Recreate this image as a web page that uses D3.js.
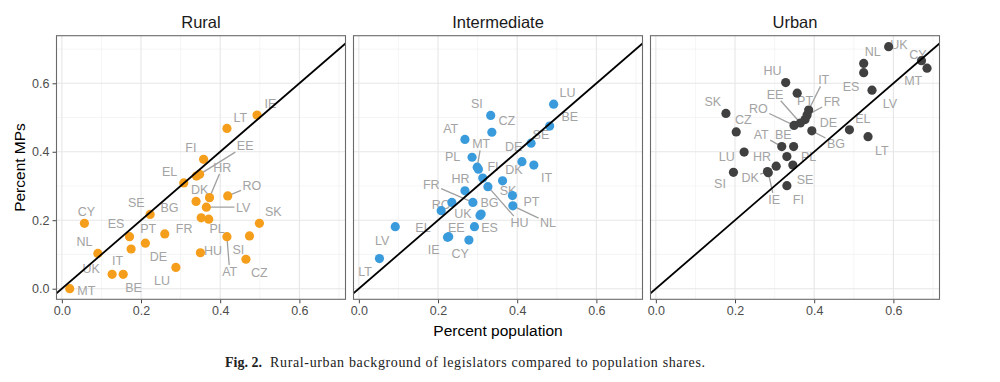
<!DOCTYPE html>
<html><head><meta charset="utf-8">
<script src="https://cdn.jsdelivr.net/npm/d3@7"></script>
<style>body{margin:0;background:#fff} svg{display:block}</style>
</head><body>
<svg id="chart" width="1000" height="382"></svg>
<script>
// ---------------- DATA ----------------
const countries = ["AT","BE","BG","CY","CZ","DE","DK","EE","EL","ES","FI","FR","HR","HU","IE","IT","LT","LU","LV","MT","NL","PL","PT","RO","SE","SI","SK","UK"];
const panelNames = ["Rural","Intermediate","Urban"];
const tickValues = [0, 0.2, 0.4, 0.6];

// Rural: population share, MP share, repelled label anchor (data units)
const ruralPop    = [0.417,0.175,0.339,0.057,0.465,0.352,0.340,0.348,0.308,0.171,0.358,0.260,0.373,0.350,0.493,0.155,0.417,0.288,0.365,0.020,0.091,0.371,0.211,0.419,0.223,0.474,0.499,0.127];
const ruralMPs    = [0.152,0.116,0.255,0.191,0.086,0.207,0.329,0.334,0.309,0.152,0.378,0.160,0.266,0.105,0.507,0.042,0.468,0.062,0.238,0.000,0.103,0.203,0.133,0.271,0.217,0.154,0.191,0.042];
const ruralLabelX = [0.424,0.181,0.272,0.062,0.499,0.244,0.348,0.463,0.272,0.137,0.326,0.309,0.405,0.382,0.527,0.141,0.451,0.253,0.458,0.062,0.057,0.392,0.218,0.480,0.188,0.446,0.534,0.074];
const ruralLabelY = [0.050,0.003,0.238,0.225,0.047,0.093,0.290,0.417,0.342,0.189,0.413,0.176,0.354,0.113,0.542,0.082,0.501,0.023,0.238,-0.006,0.138,0.176,0.176,0.300,0.251,0.115,0.226,0.060];
const ruralSegments = ["AT","EE","HR","LV","RO"];

// Intermediate
const interPop    = [0.268,0.482,0.309,0.278,0.336,0.302,0.412,0.227,0.208,0.292,0.313,0.288,0.268,0.326,0.224,0.442,0.052,0.492,0.092,0.299,0.389,0.286,0.388,0.235,0.435,0.333,0.363,0.306];
const interMPs    = [0.436,0.475,0.218,0.142,0.457,0.349,0.371,0.152,0.228,0.181,0.323,0.252,0.286,0.298,0.150,0.361,0.088,0.539,0.181,0.355,0.242,0.384,0.272,0.252,0.425,0.506,0.315,0.214];
const interLabelX = [0.232,0.533,0.330,0.256,0.374,0.391,0.392,0.246,0.162,0.330,0.339,0.183,0.257,0.406,0.189,0.474,0.016,0.527,0.059,0.309,0.478,0.237,0.436,0.208,0.460,0.298,0.377,0.263];
const interLabelY = [0.469,0.502,0.252,0.103,0.491,0.415,0.347,0.179,0.178,0.179,0.358,0.305,0.323,0.193,0.115,0.324,0.050,0.573,0.142,0.423,0.193,0.386,0.254,0.245,0.449,0.540,0.288,0.220];
const interSegments = ["FR","HU","MT","NL"];

// Urban
const urbanPop    = [0.318,0.348,0.394,0.671,0.203,0.377,0.282,0.365,0.489,0.525,0.331,0.382,0.304,0.328,0.284,0.386,0.536,0.223,0.546,0.685,0.525,0.331,0.357,0.349,0.346,0.196,0.177,0.588];
const urbanMPs    = [0.415,0.415,0.461,0.666,0.458,0.494,0.342,0.484,0.464,0.631,0.301,0.507,0.358,0.602,0.339,0.522,0.444,0.399,0.580,0.644,0.658,0.386,0.571,0.477,0.361,0.340,0.512,0.707];
const urbanLabelX = [0.266,0.322,0.455,0.662,0.221,0.436,0.238,0.301,0.523,0.493,0.360,0.445,0.268,0.295,0.299,0.424,0.571,0.179,0.591,0.650,0.548,0.386,0.377,0.259,0.377,0.162,0.144,0.614];
const urbanLabelY = [0.449,0.449,0.424,0.683,0.493,0.486,0.324,0.568,0.496,0.592,0.261,0.546,0.386,0.637,0.261,0.610,0.405,0.386,0.542,0.608,0.692,0.386,0.549,0.527,0.320,0.308,0.546,0.714];
const urbanSegments = ["AT","BG","DK","EE","FR","IE","IT","RO"];

const xLabel = "Percent population";
const yLabel = "Percent MPs";
const captionBold = "Fig. 2.";
const captionText = "Rural-urban background of legislators compared to population shares.";

// ---------------- DRAWING ----------------
const panelData = [
  {name: panelNames[0], pop: ruralPop, mps: ruralMPs, lx: ruralLabelX, ly: ruralLabelY, seg: ruralSegments, color: "#f59e1b"},
  {name: panelNames[1], pop: interPop, mps: interMPs, lx: interLabelX, ly: interLabelY, seg: interSegments, color: "#3a9bdc"},
  {name: panelNames[2], pop: urbanPop, mps: urbanMPs, lx: urbanLabelX, ly: urbanLabelY, seg: urbanSegments, color: "#404040"}
];

const FONT = "'Liberation Sans', Arial, Helvetica, sans-serif";
const svg = d3.select("#chart");
const panelLeft = [56.5, 353.5, 650.5], panelW = 289, topY = 35.7, bottomY = 299.3;
const y = d3.scaleLinear().domain([-0.031, 0.739]).range([bottomY, topY]);
const minorTicks = [0.1, 0.3, 0.5, 0.7];
const fmt = d3.format(".1f");

const defs = svg.append("defs");

panelData.forEach((p, i) => {
  const x = d3.scaleLinear().domain([-0.0135, 0.7165]).range([panelLeft[i], panelLeft[i] + panelW]);
  const x0 = panelLeft[i], x1 = panelLeft[i] + panelW;
  defs.append("clipPath").attr("id", "clip" + i)
    .append("rect").attr("x", x0).attr("y", topY).attr("width", panelW).attr("height", bottomY - topY);
  const g = svg.append("g");
  const pg = g.append("g").attr("clip-path", `url(#clip${i})`);

  // grid
  pg.append("g").selectAll("line").data(minorTicks).join("line")
    .attr("x1", d => x(d)).attr("x2", d => x(d)).attr("y1", topY).attr("y2", bottomY)
    .attr("stroke", "#f1f1f1").attr("stroke-width", 0.7);
  pg.append("g").selectAll("line").data(minorTicks).join("line")
    .attr("y1", d => y(d)).attr("y2", d => y(d)).attr("x1", x0).attr("x2", x1)
    .attr("stroke", "#f1f1f1").attr("stroke-width", 0.7);
  pg.append("g").selectAll("line").data(tickValues).join("line")
    .attr("x1", d => x(d)).attr("x2", d => x(d)).attr("y1", topY).attr("y2", bottomY)
    .attr("stroke", "#e6e6e6").attr("stroke-width", 1.1);
  pg.append("g").selectAll("line").data(tickValues).join("line")
    .attr("y1", d => y(d)).attr("y2", d => y(d)).attr("x1", x0).attr("x2", x1)
    .attr("stroke", "#e6e6e6").attr("stroke-width", 1.1);

  const rows = countries.map((c, k) => ({c, px: p.pop[k], py: p.mps[k], lx: p.lx[k], ly: p.ly[k], seg: p.seg.includes(c)}));

  const segG = pg.append("g");
  const labG = pg.append("g");
  labG.selectAll("text").data(rows).join("text")
    .attr("x", d => x(d.lx)).attr("y", d => y(d.ly)).attr("dy", "0.36em")
    .attr("text-anchor", "middle")
    .attr("font-family", FONT).attr("font-size", 12.5).attr("fill", "#a3a3a3")
    .text(d => d.c)
    .each(function(d) { d.w = this.getComputedTextLength(); });

  segG.selectAll("line").data(rows.filter(d => d.seg)).join("line")
    .each(function(d) {
      const sx = x(d.px), sy = y(d.py), cx = x(d.lx), cy = y(d.ly);
      const dx = cx - sx, dy = cy - sy;
      const hw = d.w / 2 + 1.5, hh = 6.5;
      const t = Math.min(dx !== 0 ? hw / Math.abs(dx) : Infinity, dy !== 0 ? hh / Math.abs(dy) : Infinity);
      d3.select(this).attr("x1", sx).attr("y1", sy).attr("x2", cx - dx * t).attr("y2", cy - dy * t);
    })
    .attr("stroke", "#a0a0a0").attr("stroke-width", 1.3);

  pg.append("g").selectAll("circle").data(rows).join("circle")
    .attr("cx", d => x(d.px)).attr("cy", d => y(d.py)).attr("r", 4.6)
    .attr("fill", p.color);

  // 45-degree reference line
  const lineDom = x.domain();
  pg.append("line")
    .attr("x1", x(lineDom[0])).attr("y1", y(lineDom[0]))
    .attr("x2", x(lineDom[1])).attr("y2", y(lineDom[1]))
    .attr("stroke", "#000").attr("stroke-width", 1.8);

  // border
  g.append("rect").attr("x", x0).attr("y", topY).attr("width", panelW).attr("height", bottomY - topY)
    .attr("fill", "none").attr("stroke", "#6a6a6a").attr("stroke-width", 1.1);

  // x axis
  const xa = g.append("g").attr("transform", `translate(0,${bottomY + 0.5})`)
    .call(d3.axisBottom(x).tickValues(tickValues).tickFormat(fmt).tickSize(3.5).tickPadding(3));
  xa.select(".domain").remove();
  xa.selectAll("line").attr("stroke", "#444");
  xa.selectAll("text").attr("font-family", FONT).attr("font-size", 12.5).attr("fill", "#4d4d4d");

  if (i === 0) {
    const ya = g.append("g").attr("transform", `translate(${x0 - 0.5},0)`)
      .call(d3.axisLeft(y).tickValues(tickValues).tickFormat(fmt).tickSize(3.5).tickPadding(3));
    ya.select(".domain").remove();
    ya.selectAll("line").attr("stroke", "#444");
    ya.selectAll("text").attr("font-family", FONT).attr("font-size", 12.5).attr("fill", "#4d4d4d");
  }

  // strip title
  g.append("text").attr("x", (x0 + x1) / 2).attr("y", 21.7).attr("dy", "0.36em")
    .attr("text-anchor", "middle").attr("font-family", FONT).attr("font-size", 16.5)
    .attr("fill", "#1a1a1a").text(p.name);
});

// axis titles
svg.append("text").attr("x", panelLeft[1] + panelW / 2).attr("y", 330).attr("dy", "0.36em")
  .attr("text-anchor", "middle").attr("font-family", FONT).attr("font-size", 15.5).attr("fill", "#000")
  .text(xLabel);
svg.append("text").attr("transform", `translate(19.5,${(topY + bottomY) / 2}) rotate(-90)`).attr("dy", "0.36em")
  .attr("text-anchor", "middle").attr("font-family", FONT).attr("font-size", 15.5).attr("fill", "#000")
  .text(yLabel);

// caption
const capFont = "'Liberation Serif', 'Times New Roman', serif";
svg.append("text").attr("x", 225).attr("y", 367)
  .attr("font-family", capFont).attr("font-size", 14).attr("font-weight", "bold").attr("fill", "#222")
  .text(captionBold);
svg.append("text").attr("x", 270).attr("y", 367)
  .attr("font-family", capFont).attr("font-size", 14).attr("fill", "#222")
  .attr("textLength", 435).attr("lengthAdjust", "spacing")
  .text(captionText);
</script>
</body></html>
